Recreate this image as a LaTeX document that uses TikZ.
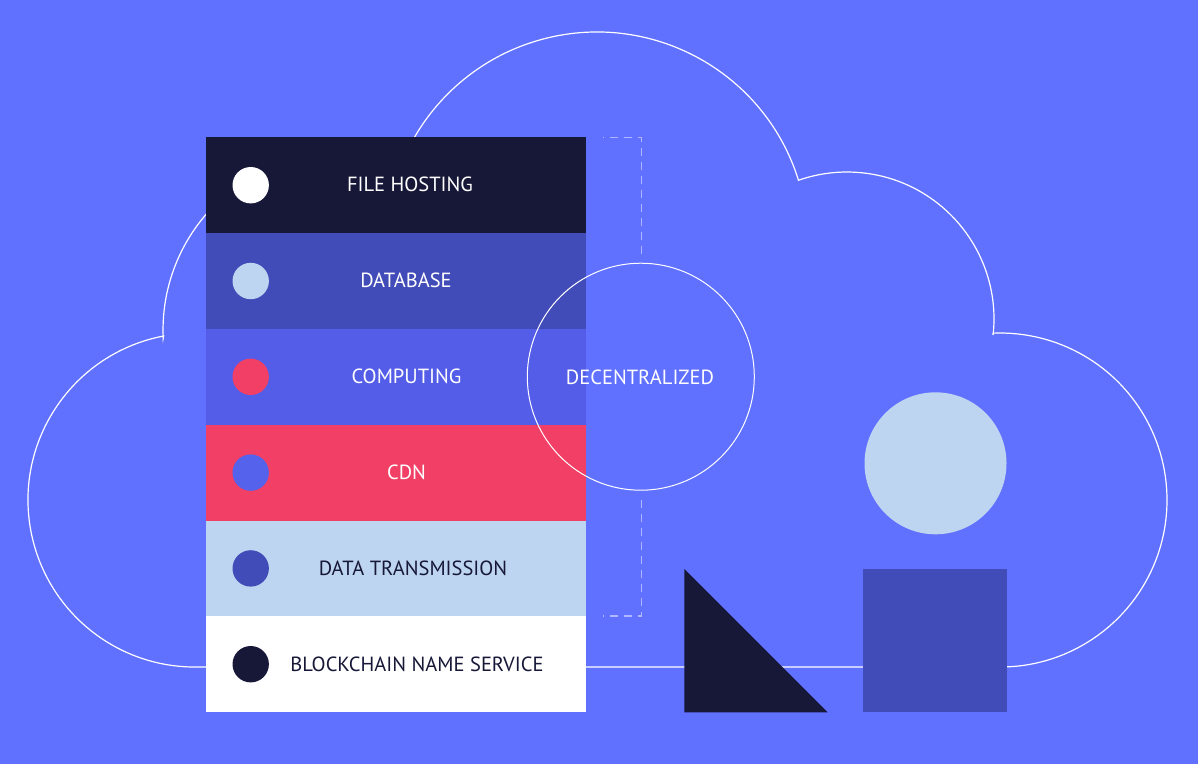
\documentclass[tikz,border=0pt]{standalone}
\usepackage{fontspec}
\setmainfont{PT Sans}
\usetikzlibrary{calc}
\definecolor{bg}{HTML}{6070FF}
\definecolor{navy}{HTML}{171838}
\definecolor{indigo}{HTML}{424CB8}
\definecolor{midblue}{HTML}{545DE8}
\definecolor{cdnred}{HTML}{F23F66}
\definecolor{pale}{HTML}{BED5F1}
\definecolor{dotblue}{HTML}{5462EC}
\tikzset{
  rowbox/.style={fill=#1, draw=none},
  dotmark/.style={circle, fill=#1, draw=none, minimum size=36.4pt, inner sep=0pt},
  lbl/.style={text=#1, font=\fontsize{20.5}{22}\selectfont, inner sep=0pt, anchor=center},
  outline/.style={draw=white, line width=1.2pt},
  bracket/.style={draw=white, draw opacity=0.5, line width=1.5pt, dash pattern=on 8pt off 6pt}
}
\begin{document}
\begin{tikzpicture}[x=1pt,y=-1pt]
\useasboundingbox (0,0) rectangle (1198,764);
\fill[bg] (0,0) rectangle (1198,764);

% cloud outline
\path[outline] (163.6,336.0) arc[start angle=259.17, end angle=90, radius=167]
  -- (1000,667) arc[start angle=90, end angle=-92.43, radius=167]
  -- (993.1,335.0) arc[start angle=6.25, end angle=-109.29, radius=147]
  -- (798.1,179.0) arc[start angle=-17.66, end angle=-160, radius=211]
  -- (309.3,155.7) arc[start angle=-100, end angle=-182.6, radius=177]
  -- cycle;

% panel rows
\path[rowbox=navy]    (206,137.3) rectangle (586,233.1);
\path[rowbox=indigo]  (206,233.1) rectangle (586,328.9);
\path[rowbox=midblue] (206,328.9) rectangle (586,424.7);
\path[rowbox=cdnred]  (206,424.7) rectangle (586,520.5);
\path[rowbox=pale]    (206,520.5) rectangle (586,616.3);
\path[rowbox=white]   (206,616.3) rectangle (586,712.1);

% dots
\node[dotmark=white]   (d1) at (250.7,185.2) {};
\node[dotmark=pale]    (d2) at (250.7,281.0) {};
\node[dotmark=cdnred]  (d3) at (250.7,376.8) {};
\node[dotmark=dotblue] (d4) at (250.7,472.6) {};
\node[dotmark=indigo]  (d5) at (250.7,568.4) {};
\node[dotmark=navy]    (d6) at (250.7,664.2) {};

% labels
\node[lbl=white] (t1) at (410,184.5) {FILE HOSTING};
\node[lbl=white] (t2) at (406,280.5) {DATABASE};
\node[lbl=white] (t3) at (406.5,376.3) {COMPUTING};
\node[lbl=white] (t4) at (406.5,472) {CDN};
\node[lbl=navy]  (t5) at (413,568.4) {DATA TRANSMISSION};
\node[lbl=navy]  (t6) at (417,664.2) {BLOCKCHAIN NAME SERVICE};

% dashed bracket
\coordinate (b1) at (603,137.5);
\coordinate (b2) at (641.5,137.5);
\coordinate (b3) at (641.5,254);
\coordinate (b4) at (641.5,500);
\coordinate (b5) at (641.5,616);
\coordinate (b6) at (603,616);
\draw[bracket] (b3) -- (b2) -- (b1);
\draw[bracket] (b4) -- (b5) -- (b6);

% decentralized circle
\node[circle, draw=white, line width=1pt, minimum size=227pt, inner sep=0pt] (dec) at (640.8,376.7) {};
\node[lbl=white] (dect) at (640,377.5) {DECENTRALIZED};

% shapes
\node[circle, fill=pale, minimum size=142pt, inner sep=0pt] (ball) at (935.5,463.3) {};
\path[fill=indigo] (863,569) rectangle (1006.7,712.3);
\path[fill=navy] (684.3,569) -- (684.3,712.3) -- (827.7,712.3) -- cycle;
\end{tikzpicture}
\end{document}
